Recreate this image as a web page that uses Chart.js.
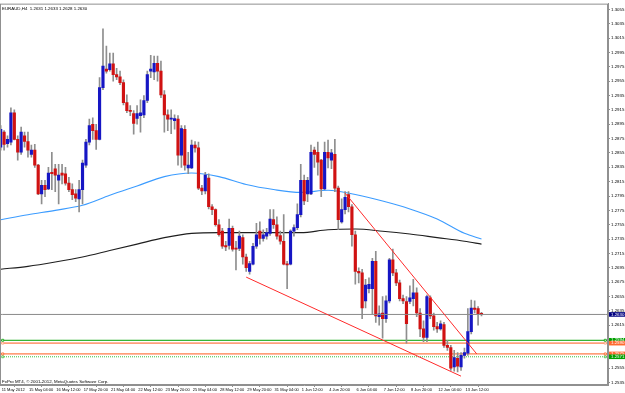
<!DOCTYPE html>
<html>
<head>
<meta charset="utf-8">
<script src="https://cdn.jsdelivr.net/npm/chart.js@4.4.1/dist/chart.umd.min.js"></script>
<style>
  html, body { margin: 0; padding: 0; background: #fff; }
</style>
</head>
<body>
<canvas id="chart" width="625" height="393"></canvas>
<script>
// EURAUD H4, bar 0 = 11 May 2012 20:00, one bar every 4 hours

const timeIdx = [0, 8, 16, 24, 32, 40, 48, 56, 64, 72, 80, 88, 96, 104, 112, 120, 128, 136];
const timeLabels = ["11 May 2012", "15 May 04:00", "16 May 12:00", "17 May 20:00", "21 May 04:00",
    "22 May 12:00", "23 May 20:00", "25 May 04:00", "28 May 12:00", "29 May 20:00", "31 May 04:00",
    "1 Jun 12:00", "4 Jun 20:00", "6 Jun 04:00", "7 Jun 12:00", "8 Jun 20:00", "12 Jun 04:00", "13 Jun 12:00"];

const priceTicks = [1.3055, 1.3035, 1.3015, 1.2995, 1.2975, 1.2955, 1.2935, 1.2915, 1.2895, 1.2875,
    1.2855, 1.2835, 1.2815, 1.2795, 1.2775, 1.2755, 1.2735, 1.2715, 1.2695, 1.2675, 1.2655, 1.2635,
    1.2615, 1.2595, 1.2575, 1.2555, 1.2535];

const opens = [1.2863,1.2884,1.2868,1.2870,1.2911,1.2874,1.2856,1.2879,1.2871,1.2853,
    1.2859,1.2838,1.2798,1.2810,1.2805,1.2828,1.2833,1.2817,1.2827,1.2826,
    1.2813,1.2804,1.2798,1.2791,1.2804,1.2838,1.2870,1.2895,1.2886,1.2874,
    1.2946,1.2972,1.2971,1.2979,1.2964,1.2961,1.2953,1.2925,1.2914,1.2910,
    1.2903,1.2907,1.2908,1.2928,1.2969,1.2968,1.2980,1.2969,1.2936,1.2908,
    1.2902,1.2900,1.2902,1.2852,1.2888,1.2834,1.2834,1.2866,1.2862,1.2806,
    1.2802,1.2820,1.2780,1.2776,1.2755,1.2746,1.2726,1.2726,1.2750,1.2722,
    1.2722,1.2737,1.2710,1.2690,1.2700,1.2725,1.2746,1.2736,1.2739,1.2743,
    1.2762,1.2755,1.2740,1.2732,1.2700,1.2700,1.2746,1.2751,1.2769,1.2817,
    1.2798,1.2798,1.2859,1.2856,1.2845,1.2805,1.2856,1.2845,1.2853,1.2806,
    1.2759,1.2776,1.2797,1.2780,1.2741,1.2690,1.2688,1.2649,1.2666,1.2666,
    1.2704,1.2627,1.2632,1.2624,1.2649,1.2706,1.2688,1.2674,1.2652,1.2648,
    1.2648,1.2652,1.2660,1.2632,1.2610,1.2598,1.2653,1.2628,1.2613,1.2610,
    1.2616,1.2587,1.2584,1.2557,1.2569,1.2557,1.2573,1.2576,1.2606,1.2639,
    1.2638,1.2631];

const highs = [1.2893,1.2886,1.2879,1.2918,1.2915,1.2879,1.2891,1.2884,1.2884,1.2866,
    1.2867,1.2839,1.2817,1.2817,1.2835,1.2856,1.2839,1.2839,1.2839,1.2835,
    1.2821,1.2812,1.2804,1.2817,1.2845,1.2874,1.2902,1.2904,1.2895,1.2960,
    1.3028,1.3004,1.2994,1.2994,1.2973,1.2969,1.2957,1.2936,1.2921,1.2914,
    1.2921,1.2929,1.2935,1.2969,1.2991,1.2990,1.2990,1.2983,1.2942,1.2915,
    1.2915,1.2908,1.2907,1.2893,1.2893,1.2856,1.2873,1.2871,1.2870,1.2810,
    1.2828,1.2826,1.2783,1.2777,1.2762,1.2750,1.2732,1.2763,1.2753,1.2732,
    1.2746,1.2741,1.2714,1.2704,1.2729,1.2757,1.2759,1.2748,1.2750,1.2776,
    1.2776,1.2766,1.2746,1.2769,1.2704,1.2748,1.2755,1.2784,1.2839,1.2824,
    1.2821,1.2866,1.2863,1.2870,1.2846,1.2870,1.2873,1.2860,1.2874,1.2809,
    1.2791,1.2801,1.2801,1.2783,1.2746,1.2695,1.2693,1.2679,1.2681,1.2708,
    1.2718,1.2642,1.2655,1.2656,1.2708,1.2721,1.2693,1.2678,1.2657,1.2655,
    1.2670,1.2679,1.2667,1.2638,1.2621,1.2657,1.2656,1.2632,1.2619,1.2621,
    1.2619,1.2594,1.2587,1.2580,1.2577,1.2577,1.2583,1.2638,1.2650,1.2649,
    1.2641,1.2633];

const lows = [1.2859,1.2859,1.2863,1.2866,1.2873,1.2845,1.2853,1.2863,1.2849,1.2849,
    1.2835,1.2797,1.2784,1.2794,1.2804,1.2804,1.2801,1.2784,1.2812,1.2810,
    1.2801,1.2790,1.2787,1.2773,1.2784,1.2835,1.2866,1.2874,1.2860,1.2873,
    1.2943,1.2966,1.2969,1.2955,1.2957,1.2950,1.2922,1.2911,1.2907,1.2881,
    1.2895,1.2884,1.2904,1.2925,1.2960,1.2957,1.2955,1.2932,1.2884,1.2886,
    1.2882,1.2888,1.2838,1.2835,1.2831,1.2826,1.2833,1.2856,1.2804,1.2797,
    1.2798,1.2777,1.2769,1.2753,1.2739,1.2722,1.2719,1.2721,1.2718,1.2692,
    1.2719,1.2700,1.2690,1.2686,1.2699,1.2722,1.2728,1.2732,1.2735,1.2740,
    1.2750,1.2735,1.2728,1.2699,1.2666,1.2699,1.2739,1.2748,1.2766,1.2783,
    1.2787,1.2797,1.2835,1.2824,1.2794,1.2804,1.2834,1.2833,1.2801,1.2748,
    1.2757,1.2770,1.2773,1.2725,1.2672,1.2674,1.2624,1.2639,1.2660,1.2631,
    1.2619,1.2615,1.2597,1.2619,1.2646,1.2684,1.2670,1.2649,1.2645,1.2590,
    1.2645,1.2642,1.2627,1.2599,1.2592,1.2592,1.2624,1.2608,1.2605,1.2608,
    1.2584,1.2580,1.2552,1.2551,1.2550,1.2552,1.2569,1.2573,1.2603,1.2632,
    1.2615,1.2628];

const closes = [1.2888,1.2867,1.2874,1.2911,1.2874,1.2856,1.2884,1.2871,1.2859,1.2859,
    1.2838,1.2798,1.2810,1.2804,1.2827,1.2826,1.2824,1.2824,1.2824,1.2813,
    1.2804,1.2797,1.2792,1.2804,1.2841,1.2870,1.2893,1.2886,1.2874,1.2946,
    1.2976,1.2969,1.2979,1.2964,1.2961,1.2953,1.2925,1.2914,1.2913,1.2896,
    1.2910,1.2911,1.2928,1.2964,1.2972,1.2980,1.2969,1.2936,1.2908,1.2902,
    1.2903,1.2903,1.2852,1.2889,1.2838,1.2838,1.2866,1.2862,1.2806,1.2802,
    1.2824,1.2780,1.2776,1.2755,1.2741,1.2725,1.2724,1.2750,1.2721,1.2721,
    1.2739,1.2710,1.2695,1.2701,1.2725,1.2741,1.2736,1.2741,1.2744,1.2763,
    1.2755,1.2739,1.2732,1.2700,1.2699,1.2746,1.2751,1.2769,1.2817,1.2788,
    1.2817,1.2856,1.2853,1.2842,1.2805,1.2856,1.2848,1.2855,1.2806,1.2762,
    1.2776,1.2793,1.2780,1.2741,1.2690,1.2688,1.2639,1.2671,1.2672,1.2704,
    1.2628,1.2631,1.2624,1.2649,1.2706,1.2688,1.2674,1.2652,1.2649,1.2617,
    1.2653,1.2660,1.2632,1.2610,1.2598,1.2655,1.2628,1.2613,1.2610,1.2617,
    1.2587,1.2584,1.2555,1.2570,1.2558,1.2573,1.2577,1.2606,1.2639,1.2637,
    1.2631,1.2630];

// moving averages at these bars
const maIdx = [0, 8, 16, 24, 32, 40, 48, 56, 64, 72, 80, 88, 96, 104, 112, 120, 128, 136, 141];
const maBlue = [1.2762, 1.2769, 1.2775, 1.2782, 1.2796, 1.2809, 1.2822, 1.2827, 1.2822, 1.2811,
    1.2804, 1.2800, 1.2803, 1.2797, 1.2788, 1.2777, 1.2763, 1.2743, 1.2735];
const maBlack = [1.2693, 1.2697, 1.2703, 1.2710, 1.2719, 1.2728, 1.2737, 1.2743, 1.2744, 1.2744,
    1.2744, 1.2744, 1.2748, 1.2749, 1.2746, 1.2742, 1.2737, 1.2732, 1.2728];

// trend lines (bar, price)
const lowLineIdx = [72, 135];
const lowLinePrice = [1.2682, 1.2544];
const highLineIdx = [101, 139.6];
const highLinePrice = [1.2799, 1.2575];

const bid = 1.2630;
const levelPrices = [1.2594, 1.2590, 1.2575, 1.2571];
const levelColors = ['#00a000', '#ffa07c', '#ff5c1c', '#3cc03c'];
const levelBoxColors = ['#00a000', '#ff6a30', '#ff6a30', '#00a000'];

const title = "EURAUD,H4  1.2631 1.2633 1.2628 1.2630";
const footer = "FxPro MT4, \u00a9 2001-2012, MetaQuotes Software Corp.";

const xMin = -0.2, xMax = 178.1;
const yMin = 1.25317, yMax = 1.3063;
const fontFam = "'Liberation Sans', Arial, sans-serif";
const tiny = { family: fontFam, size: 4.4 };
const tinyX = { family: fontFam, size: 4.0 };

const wickData = highs.map((h, i) => ({ x: i, y: [lows[i], h] }));
const bodyData = opens.map((o, i) => ({ x: i, y: [o, closes[i]] }));
const bodyColors = opens.map((o, i) => closes[i] >= o ? '#1616c4' : '#d01212');

function flatLine(v) {
    return [{ x: xMin, y: v }, { x: 0.6, y: v }, { x: 177.3, y: v }, { x: xMax, y: v }];
}

let datasets = [];

levelPrices.forEach((v, k) => {
    datasets.push({
        type: 'line',
        data: flatLine(v),
        borderColor: levelColors[k],
        borderWidth: k == 1 ? 1.6 : 1,
        borderDash: k == 3 ? [1, 1] : [],
        pointRadius: [0, 1.4, 1.4, 0],
        pointStyle: 'rect',
        pointBackgroundColor: '#fff',
        pointBorderColor: levelColors[k],
        pointBorderWidth: 0.8,
        order: 10
    });
});

datasets.push({
    type: 'line',
    data: maIdx.map((x, k) => ({ x: x, y: maBlack[k] })),
    borderColor: '#1e1e1e',
    borderWidth: 1.1,
    pointRadius: 0,
    cubicInterpolationMode: 'monotone',
    order: 8
});

datasets.push({
    type: 'line',
    data: maIdx.map((x, k) => ({ x: x, y: maBlue[k] })),
    borderColor: '#3c9cff',
    borderWidth: 1.1,
    pointRadius: 0,
    cubicInterpolationMode: 'monotone',
    order: 8
});

datasets.push({
    type: 'bar',
    data: wickData,
    backgroundColor: '#8e8e8e',
    barThickness: 1,
    grouped: false,
    order: 6
});

datasets.push({
    type: 'bar',
    data: bodyData,
    backgroundColor: bodyColors,
    barThickness: 2.5,
    minBarLength: 1,
    grouped: false,
    order: 5
});

datasets.push({
    type: 'line',
    data: flatLine(bid),
    borderColor: '#8a8a8a',
    borderWidth: 1,
    pointRadius: 0,
    order: 3
});

datasets.push({
    type: 'line',
    data: lowLineIdx.map((x, k) => ({ x: x, y: lowLinePrice[k] })),
    borderColor: '#ff2a2a',
    borderWidth: 1,
    pointRadius: 0,
    order: 1
});

datasets.push({
    type: 'line',
    data: highLineIdx.map((x, k) => ({ x: x, y: highLinePrice[k] })),
    borderColor: '#ff2a2a',
    borderWidth: 1,
    pointRadius: 0,
    order: 1
});

const mt4Decor = {
    id: 'mt4Decor',
    afterDraw(chart) {
        const ctx = chart.ctx;
        const a = chart.chartArea;
        const y = chart.scales.y;
        ctx.save();
        ctx.strokeStyle = '#909090';
        ctx.lineWidth = 1;
        ctx.strokeRect(a.left + 0.5, a.top + 0.5, a.right - a.left - 1, a.bottom - a.top - 1);

        ctx.font = '4.4px ' + fontFam;
        ctx.textBaseline = 'middle';
        ctx.textAlign = 'left';
        ctx.fillStyle = '#000';
        ctx.fillText(title, a.left + 2, a.top + 5);
        ctx.fillText(footer, a.left + 2, a.bottom - 3.5);

        // price tags on the right axis
        let tags = [[bid, '#000080']];
        levelPrices.forEach((v, k) => tags.push([v, levelBoxColors[k]]));
        tags.forEach(t => {
            const py = y.getPixelForValue(t[0]);
            ctx.fillStyle = t[1];
            ctx.fillRect(a.right + 1, py - 2.3, 16, 4.6);
            ctx.fillStyle = '#fff';
            ctx.fillText(t[0].toFixed(4), a.right + 3, py);
        });
        ctx.restore();
    }
};

const chart = new Chart(document.getElementById('chart'), {
    type: 'bar',
    data: { datasets: datasets },
    plugins: [mt4Decor],
    options: {
        responsive: false,
        animation: false,
        events: [],
        layout: { padding: 0 },
        plugins: {
            legend: { display: false },
            tooltip: { enabled: false }
        },
        scales: {
            x: {
                type: 'linear',
                min: xMin,
                max: xMax,
                offset: false,
                afterBuildTicks: s => { s.ticks = timeIdx.map(v => ({ value: v })); },
                afterFit: s => { s.height = 8; },
                ticks: {
                    autoSkip: false,
                    maxRotation: 0,
                    align: 'start',
                    padding: 0,
                    font: tinyX,
                    color: '#000',
                    callback: (v, k) => ' ' + timeLabels[k]
                },
                grid: { drawOnChartArea: false, tickLength: 2, color: '#909090' },
                border: { color: '#909090' }
            },
            y: {
                position: 'right',
                min: yMin,
                max: yMax,
                afterBuildTicks: s => { s.ticks = priceTicks.map(v => ({ value: v })); },
                afterFit: s => { s.width = 17; },
                ticks: {
                    autoSkip: false,
                    padding: 1,
                    font: tiny,
                    color: '#000',
                    callback: v => v.toFixed(4)
                },
                grid: { drawOnChartArea: false, tickLength: 2, color: '#909090' },
                border: { color: '#909090' }
            }
        }
    }
});
</script>
</body>
</html>
